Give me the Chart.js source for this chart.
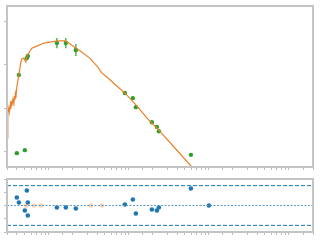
<!doctype html>
<html lang="en">
<head>
<meta charset="utf-8">
<title>SED fit</title>
<script src="https://cdn.jsdelivr.net/npm/chart.js@4.4.1/dist/chart.umd.min.js"></script>
<style>
  body { margin: 0; background: #fff; }
  #wrap { position: relative; width: 320px; height: 240px; }
  canvas { position: absolute; left: 0; }
</style>
</head>
<body>
<div id="wrap">
  <canvas id="sedChart" width="320" height="175" style="top:0"></canvas>
  <canvas id="residChart" width="320" height="68" style="top:172px"></canvas>
</div>
<script>
// model SED (log flux)
var modelX = [0.030, 0.0307, 0.0316, 0.0321, 0.0330, 0.0335, 0.0340, 0.0345, 0.0355, 0.0365,
              0.0370, 0.0376, 0.0381, 0.0387, 0.0398, 0.0422,
              0.0447, 0.0460, 0.0487, 0.0516, 0.0531, 0.0562, 0.0613, 0.0708, 0.0866, 0.1029,
              0.1297, 0.1585, 0.1728, 0.1995, 0.244, 0.3255, 0.41, 0.46, 0.531, 0.729,
              0.891, 1.259, 1.728, 2.304, 3.758, 6.13];
var modelY = [-11.70, -11.12, -11.00, -11.10, -10.92, -11.02, -10.84, -10.95, -10.80, -10.90,
              -10.72, -10.82, -10.68, -10.77, -10.51, -10.23,
              -9.93, -9.86, -9.84, -9.93, -9.79, -9.72, -9.61, -9.56, -9.49, -9.47,
              -9.44, -9.44, -9.47, -9.56, -9.67, -9.84, -10.05, -10.19, -10.28, -10.51,
              -10.65, -10.95, -11.26, -11.49, -11.93, -12.37];

// photometry
var obsX = [0.0398, 0.0501, 0.0422, 0.0531, 0.0546, 0.126, 0.163, 0.2175,
            0.891, 1.122, 1.223, 1.94, 2.24, 2.37, 5.96];
var obsY = [-12.05, -11.98, -10.23, -9.84, -9.79, -9.49, -9.49, -9.65,
            -10.65, -10.77, -10.98, -11.33, -11.44, -11.54, -12.09];
var obsErr = [0.02, 0.02, 0.03, 0.04, 0.03, 0.12, 0.12, 0.14,
              0.02, 0.02, 0.02, 0.02, 0.02, 0.02, 0.02];

// residuals
var resX = [0.0398, 0.0422, 0.0531, 0.0546, 0.0501, 0.0546, 0.126, 0.163, 0.2175,
            0.891, 1.122, 1.223, 1.94, 2.24, 2.37, 5.96, 10.0];
var resY = [1.2, 0.45, 2.26, 0.45, -0.75, -1.5, -0.3, -0.3, -0.45,
            0.15, 0.9, -1.2, -0.6, -0.75, -0.3, 2.57, 0.0];
var maskedX = [0.0516, 0.065, 0.0794, 0.335, 0.46];
var maskedY = [0, 0, 0, 0, 0];

var xMin = 0.03, xMax = 200;

function pts(xs, ys) {
    return xs.map(function(x, i) { return {x: x, y: ys[i]}; });
}

var errPts = [];
obsX.forEach(function(x, i) {
    errPts.push({x: x, y: obsY[i] - obsErr[i]});
    errPts.push({x: x, y: obsY[i] + obsErr[i]});
    errPts.push({x: x, y: null});
});

var framePlugin = {
    id: 'frame',
    afterDraw: function(chart) {
        var a = chart.chartArea, ctx = chart.ctx;
        ctx.save();
        ctx.strokeStyle = '#c4c4c4';
        ctx.lineWidth = 2;
        ctx.strokeRect(a.left, a.top, a.right - a.left, a.bottom - a.top);
        ctx.restore();
    }
};

function xAxis() {
    return {
        type: 'logarithmic', min: xMin, max: xMax,
        ticks: {display: false},
        grid: {drawOnChartArea: false, tickLength: 3, color: '#bbbbbb'},
        border: {display: false}
    };
}

Chart.defaults.animation = false;

new Chart(document.getElementById('sedChart'), {
    type: 'scatter',
    data: {
        datasets: [
            {data: pts(modelX, modelY), showLine: true, borderColor: '#e8822a', borderWidth: 1.2,
             pointRadius: 0, tension: 0},
            {data: errPts, showLine: true, spanGaps: false, borderColor: '#2ca02c', borderWidth: 1.2,
             pointRadius: 0},
            {data: pts(obsX, obsY), backgroundColor: '#2ca02c', borderColor: '#2ca02c',
             pointRadius: 2.2, borderWidth: 0}
        ]
    },
    options: {
        responsive: false,
        layout: {padding: {left: 4, top: 6, right: 7, bottom: 5}},
        plugins: {legend: {display: false}, tooltip: {enabled: false}},
        scales: {
            x: xAxis(),
            y: {
                min: -12.372, max: -8.628,
                ticks: {display: false, stepSize: 1, includeBounds: false},
                grid: {drawOnChartArea: false, tickLength: 3, color: '#bbbbbb'},
                border: {display: false}
            }
        }
    },
    plugins: [framePlugin]
});

new Chart(document.getElementById('residChart'), {
    type: 'scatter',
    data: {
        datasets: [
            {data: pts([xMin, xMax], [3, 3]), showLine: true, borderColor: '#1f77b4', borderWidth: 1,
             borderDash: [4, 2], pointRadius: 0},
            {data: pts([xMin, xMax], [-3, -3]), showLine: true, borderColor: '#1f77b4', borderWidth: 1,
             borderDash: [4, 2], pointRadius: 0},
            {data: pts([xMin, xMax], [0, 0]), showLine: true, borderColor: '#5a9bd0',
             borderWidth: 1.2, borderDash: [2, 1.5], pointRadius: 0},
            {data: pts(maskedX, maskedY), backgroundColor: 'rgba(255,127,14,0.35)',
             borderWidth: 0, pointRadius: 2.3},
            {data: pts(resX, resY), backgroundColor: '#1f77b4', borderWidth: 0,
             pointRadius: 2.3}
        ]
    },
    options: {
        responsive: false,
        layout: {padding: {left: 4, top: 7, right: 7, bottom: 5}},
        plugins: {legend: {display: false}, tooltip: {enabled: false}},
        scales: {
            x: xAxis(),
            y: {
                min: -4, max: 4,
                ticks: {display: false, stepSize: 2},
                grid: {drawOnChartArea: false, tickLength: 3, color: '#bbbbbb'},
                border: {display: false}
            }
        }
    },
    plugins: [framePlugin]
});
</script>
</body>
</html>
